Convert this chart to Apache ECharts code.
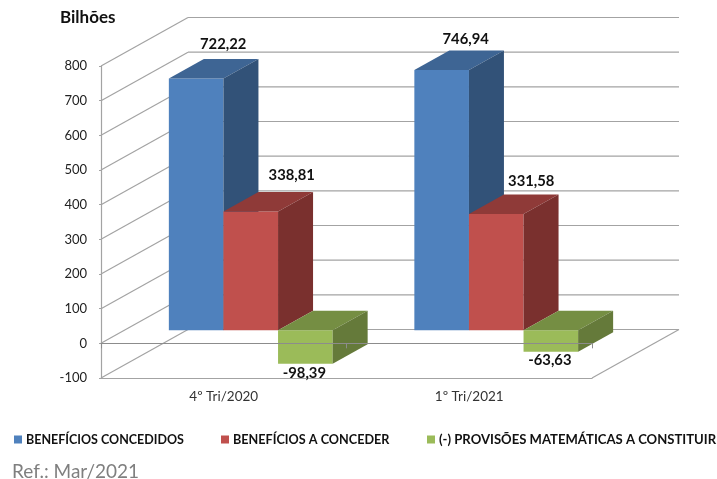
<!DOCTYPE html>
<html>
<head>
<meta charset="utf-8">
<style>html,body{margin:0;padding:0;background:#fff}#c{width:717px;height:479px}</style>
<script src="https://cdn.jsdelivr.net/npm/echarts@6/dist/echarts.min.js"></script>
</head>
<body>
<div id="c"></div>
<script>
const categories = ['4º Tri/2020', '1º Tri/2021'];
const seriesNames = ['BENEFÍCIOS CONCEDIDOS', 'BENEFÍCIOS A CONCEDER', '(-) PROVISÕES MATEMÁTICAS A CONSTITUIR'];
const concedidos = [722.22, 746.94];
const aConceder = [338.81, 331.58];
const provisoes = [-98.39, -63.63];
const gridTicks = [-100, 0, 100, 200, 300, 400, 500, 600, 700, 800];

const font = 'Lato, sans-serif';
const palette = [
  { front: '#4f81bd', top: '#3e6594', side: '#325278' },
  { front: '#c0504d', top: '#8f3a38', side: '#7a302e' },
  { front: '#9bbb59', top: '#758e43', side: '#657a3a' }
];
// label nudges (px), per series then per category
const labelNudge = [
  [[27, -34], [24, -31]],
  [[41, -36], [35, -33]],
  [[-1, 9], [-1, 9]]
];
const wallDx = 87, wallDy = -48.5;      // depth of the chart box
const frontDx = 27, frontDy = -13;      // bar front plane inside the box
const depthDx = 35, depthDy = -19.5;    // bar depth
const topLift = 1.5;                    // positive bar tops sit slightly higher in the source
const widthRatio = 0.2224;
const fmt = v => v.toFixed(2).replace('.', ',');

function barItem(sIdx) {
  return function (params, api) {
    const cat = api.value(0), v = api.value(1);
    const c0 = api.coord([cat, 0]), cv = api.coord([cat, v]);
    const w = api.size([1, 0])[0] * widthRatio;
    const x0 = c0[0] + frontDx + (sIdx - 1.5) * w, x1 = x0 + w;
    const yTop = Math.min(c0[1], cv[1]) + frontDy - (v > 0 ? topLift : 0);
    const yBot = Math.max(c0[1], cv[1]) + frontDy - (v < 0 ? 0.7 : 0);
    const p = palette[sIdx];
    const n = labelNudge[sIdx][cat];
    const shape = (pts, fill) => ({ type: 'polygon', shape: { points: pts }, style: { fill: fill } });
    return {
      type: 'group',
      children: [
        shape([[x0, yBot], [x1, yBot], [x1, yTop], [x0, yTop]], p.front),
        shape([[x0, yTop], [x1, yTop], [x1 + depthDx, yTop + depthDy], [x0 + depthDx, yTop + depthDy]], p.top),
        shape([[x1, yTop], [x1 + depthDx, yTop + depthDy], [x1 + depthDx, yBot + depthDy], [x1, yBot]], p.side),
        {
          type: 'text',
          z2: 10,
          style: {
            text: fmt(v),
            x: (x0 + x1) / 2 + n[0],
            y: (v >= 0 ? yTop : yBot) + n[1],
            align: 'center',
            verticalAlign: 'middle',
            fill: '#111',
            font: 'bold 14.8px ' + font
          }
        }
      ]
    };
  };
}

function frameItem(params, api) {
  const sys = params.coordSys;
  const v = api.value(1);
  const y = api.coord([0, v])[1];
  const x0 = sys.x, x1 = x0 + wallDx, x2 = sys.x + sys.width + wallDx;
  const stroke = { stroke: '#a3a3a3', lineWidth: 1.2, fill: null };
  const children = [
    { type: 'line', shape: { x1: x0, y1: y, x2: x1, y2: y + wallDy }, style: stroke },
    { type: 'line', shape: { x1: x1, y1: y + wallDy, x2: x2, y2: y + wallDy }, style: stroke }
  ];
  if (v === gridTicks[0]) {
    children.push({ type: 'line', shape: { x1: sys.x + sys.width, y1: y, x2: x2, y2: y + wallDy }, style: stroke });
  }
  return { type: 'group', children: children };
}

const values = [concedidos, aConceder, provisoes];
const legendLeft = [14, 221, 427];
const legendFont = [12.5, 12.65, 13.1];

const chart = echarts.init(document.getElementById('c'), null, { renderer: 'canvas' });
chart.setOption({
  animation: false,
  backgroundColor: '#fff',
  title: [
    { text: 'Bilhões', left: 60, top: 9, padding: 0, textStyle: { fontFamily: font, fontSize: 17, fontWeight: 'bold', color: '#111' } },
    { text: 'Ref.: Mar/2021', left: 12, top: 462, padding: 0, textStyle: { fontFamily: font, fontSize: 19, fontWeight: 'normal', color: '#7f7f7f' } }
  ],
  legend: seriesNames.map((name, i) => ({
    data: [name],
    left: legendLeft[i],
    top: 433,
    padding: 0,
    icon: 'rect',
    itemWidth: 8,
    itemHeight: 8,
    itemGap: 0,
    selectedMode: false,
    textStyle: { fontFamily: font, fontSize: legendFont[i], fontWeight: 'bold', color: '#111', padding: [0, 0, 0, -1] }
  })),
  grid: { left: 101, top: 66, width: 491, height: 312, containLabel: false },
  xAxis: [
    {
      type: 'category',
      data: categories,
      position: 'bottom',
      axisLine: { onZero: false, lineStyle: { color: '#a3a3a3', width: 1.2 } },
      axisTick: { show: false },
      axisLabel: { fontFamily: font, fontSize: 13.5, color: '#333', margin: 12 },
      splitLine: { show: false }
    },
    {
      type: 'category',
      data: categories,
      position: 'bottom',
      z: 6,
      axisLine: { onZero: true, lineStyle: { color: '#8c8c8c', width: 1.2 } },
      axisTick: { show: true, length: 5, alignWithLabel: false, lineStyle: { color: '#8c8c8c' } },
      axisLabel: { show: false },
      splitLine: { show: false }
    }
  ],
  yAxis: {
    type: 'value',
    min: -100,
    max: 800,
    interval: 100,
    axisLine: { show: true, onZero: false, lineStyle: { color: '#a3a3a3', width: 1.2 } },
    axisTick: { show: true, length: 2, lineStyle: { color: '#a3a3a3' } },
    axisLabel: { fontFamily: font, fontSize: 13, color: '#222', margin: 14 },
    splitLine: { show: false }
  },
  series: [
    {
      type: 'custom',
      name: 'grade',
      z: 1,
      silent: true,
      renderItem: frameItem,
      encode: { x: 0, y: 1 },
      data: gridTicks.map(t => [0, t])
    }
  ].concat(seriesNames.map((name, i) => ({
    type: 'custom',
    name: name,
    z: 2 + i,
    renderItem: barItem(i),
    itemStyle: { color: palette[i].front },
    encode: { x: 0, y: 1 },
    data: values[i].map((v, c) => [c, v])
  })))
});
</script>
</body>
</html>
